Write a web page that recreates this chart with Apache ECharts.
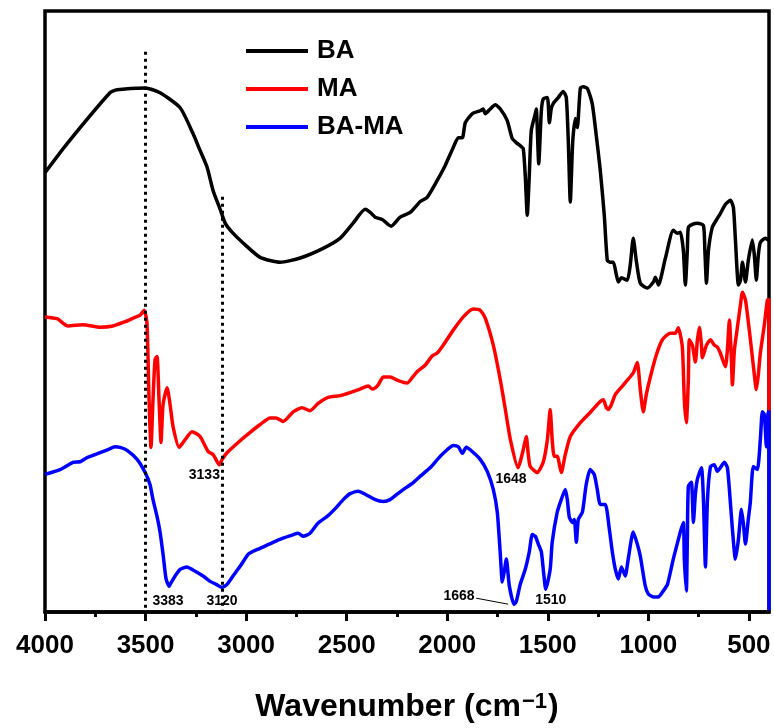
<!DOCTYPE html>
<html>
<head>
<meta charset="utf-8">
<title>FTIR spectra: BA, MA, BA-MA</title>
<script src="https://cdn.jsdelivr.net/npm/echarts@6/dist/echarts.min.js"></script>
<style>
  html, body { margin: 0; padding: 0; background: #fff; }
  #chart { width: 774px; height: 728px; }
</style>
</head>
<body>
<div id="chart"></div>
<script>
// Transmittance (arbitrary units, curves stacked) against wavenumber (cm-1)
const seriesNames = ['BA', 'MA', 'BA-MA'];

const baData = [
  [4000,73.1],[3891,77.9],[3677,86.4],[3642,86.9],[3502,87.2],[3428,86.4],[3328,83.9],[3264,79.6],
  [3229,76.8],[3194,74.0],[3164,70.1],[3129,67.0],[3104,64.7],[3070,63.2],[3015,61.4],[2930,59.0],
  [2831,58.2],[2731,58.9],[2617,60.5],[2532,62.2],[2468,64.7],[2408,67.0],[2383,66.5],[2358,65.7],
  [2323,65.3],[2279,64.2],[2234,65.7],[2184,66.5],[2134,68.3],[2100,69.0],[2050,71.8],[2010,74.3],
  [1970,77.3],[1945,78.9],[1925,78.9],[1910,81.4],[1876,82.9],[1836,83.4],[1821,83.7],[1811,82.9],
  [1786,83.7],[1761,84.4],[1736,83.7],[1702,81.8],[1677,78.8],[1657,78.1],[1637,77.6],[1622,77.1],
  [1612,72.6],[1602,66.0],[1592,72.6],[1582,80.1],[1562,82.9],[1557,83.7],[1545,74.6],[1532,83.4],
  [1522,85.4],[1502,85.6],[1492,81.4],[1483,83.7],[1473,84.6],[1448,85.6],[1423,86.6],[1408,85.6],
  [1398,78.4],[1388,68.2],[1378,76.8],[1373,79.6],[1363,82.1],[1353,80.6],[1338,87.2],[1323,87.4],
  [1303,87.1],[1279,84.6],[1259,79.3],[1239,73.5],[1219,66.0],[1204,58.5],[1189,58.2],[1174,58.2],
  [1159,56.1],[1149,54.9],[1134,55.6],[1105,55.2],[1090,57.7],[1075,62.2],[1060,58.5],[1040,54.7],
  [1005,53.9],[975,54.9],[965,55.7],[950,54.4],[915,58.9],[876,63.5],[856,63.0],[841,63.2],
  [826,60.2],[816,54.4],[806,60.2],[801,64.0],[781,64.5],[756,64.7],[726,64.3],[719,60.2],
  [711,54.7],[701,60.2],[682,64.0],[662,65.2],[642,66.3],[617,67.8],[592,68.5],[577,67.3],
  [567,61.9],[552,54.4],[542,55.2],[532,58.2],[517,54.9],[503,58.5],[483,61.9],[473,59.4],
  [463,55.2],[453,59.4],[443,61.5],[418,62.2],[403,61.9],[400,61.9]
];

const maData = [
  [4000,49.1],[3940,48.8],[3886,47.6],[3811,47.8],[3726,47.4],[3662,47.6],[3602,48.3],[3562,48.9],
  [3527,49.4],[3507,50.2],[3493,48.1],[3483,35.8],[3473,27.4],[3463,35.3],[3453,42.0],[3443,42.5],
  [3433,35.3],[3423,28.2],[3413,34.5],[3393,37.3],[3378,34.5],[3363,30.8],[3333,27.4],[3303,28.7],
  [3269,30.0],[3229,29.2],[3189,26.7],[3164,26.2],[3133,24.5],[3119,25.4],[3095,26.5],[3030,28.5],
  [2980,29.9],[2930,31.2],[2881,32.3],[2851,32.3],[2816,31.7],[2766,33.3],[2722,34.0],[2682,33.5],
  [2642,34.7],[2592,35.7],[2532,36.0],[2483,36.5],[2433,37.1],[2393,37.6],[2373,37.1],[2358,37.3],
  [2343,37.8],[2318,39.1],[2284,39.1],[2244,38.5],[2199,38.1],[2174,39.0],[2149,40.0],[2109,41.1],
  [2075,42.6],[2050,43.1],[2020,44.4],[1970,46.9],[1920,49.1],[1871,50.4],[1836,50.2],[1811,48.9],
  [1771,44.4],[1736,38.6],[1711,33.7],[1686,28.7],[1648,24.0],[1637,25.0],[1622,27.0],[1607,29.2],
  [1597,26.2],[1587,24.2],[1552,23.2],[1522,25.0],[1502,28.7],[1488,33.7],[1478,28.7],[1468,25.9],
  [1453,25.9],[1433,23.2],[1413,26.2],[1388,29.2],[1338,31.5],[1289,33.2],[1249,34.7],[1224,35.3],
  [1209,34.0],[1199,33.7],[1184,34.5],[1164,36.2],[1124,37.8],[1075,39.8],[1055,41.5],[1040,37.0],
  [1025,33.3],[1010,36.2],[990,39.1],[960,42.8],[930,45.3],[891,46.4],[866,46.4],[851,47.3],
  [831,44.1],[821,35.3],[811,31.5],[801,38.6],[796,45.3],[781,44.4],[766,41.6],[756,45.3],
  [746,47.4],[736,44.4],[731,42.3],[711,44.4],[691,45.3],[672,44.4],[657,44.1],[642,43.1],
  [617,40.8],[607,43.6],[597,48.6],[587,42.0],[582,37.8],[572,43.6],[557,47.4],[542,51.1],
  [532,53.2],[517,51.9],[498,46.9],[483,42.5],[473,39.5],[463,37.0],[453,39.5],[443,43.1],
  [423,47.8],[408,51.9],[400,52.0],[400,32.0]
];

const bamaData = [
  [4000,22.9],[3925,23.7],[3861,24.9],[3826,25.0],[3791,25.7],[3726,26.5],[3687,27.0],[3652,27.5],
  [3627,27.4],[3592,26.9],[3542,25.4],[3502,23.2],[3478,21.2],[3463,18.7],[3443,15.9],[3428,13.3],
  [3413,9.6],[3398,5.5],[3383,4.3],[3378,4.6],[3353,6.0],[3328,7.1],[3294,7.5],[3264,7.0],
  [3244,6.6],[3214,6.0],[3179,5.1],[3149,4.6],[3120,4.1],[3095,4.6],[3065,6.0],[3030,7.6],
  [2990,9.6],[2965,10.1],[2930,10.6],[2866,11.6],[2816,12.3],[2771,12.8],[2741,13.1],[2716,12.6],
  [2682,13.1],[2642,14.8],[2597,15.9],[2557,17.2],[2517,18.7],[2483,19.7],[2443,20.1],[2408,19.6],
  [2358,18.7],[2318,18.4],[2284,18.7],[2249,19.6],[2209,20.6],[2174,21.4],[2134,22.6],[2085,24.0],
  [2035,25.9],[2000,27.0],[1970,27.7],[1945,27.5],[1925,26.4],[1905,27.4],[1876,26.7],[1836,25.4],
  [1801,23.4],[1771,20.4],[1751,16.6],[1736,9.6],[1726,5.0],[1716,6.8],[1706,8.8],[1691,4.3],
  [1668,1.3],[1657,1.7],[1637,4.6],[1612,7.1],[1592,10.0],[1577,12.9],[1562,12.6],[1547,11.3],
  [1532,10.0],[1520,6.3],[1510,3.8],[1488,7.1],[1478,11.6],[1453,16.6],[1433,18.7],[1413,20.4],
  [1403,18.7],[1393,15.8],[1378,14.9],[1368,15.4],[1358,11.6],[1348,15.4],[1328,16.6],[1309,21.2],
  [1289,23.7],[1269,22.9],[1254,20.4],[1239,17.9],[1214,17.9],[1194,13.8],[1179,10.0],[1164,7.1],
  [1149,5.5],[1134,7.5],[1115,6.0],[1100,8.8],[1075,13.3],[1055,11.3],[1040,9.3],[1015,4.3],
  [1000,3.0],[975,2.5],[950,2.5],[930,3.3],[905,4.6],[876,8.8],[841,13.3],[826,14.9],
  [821,8.8],[811,3.5],[806,12.1],[801,20.9],[786,21.6],[776,14.9],[766,19.6],[756,22.1],
  [736,24.0],[726,18.7],[716,7.5],[706,18.7],[691,24.2],[672,24.5],[657,23.4],[642,24.0],
  [622,24.9],[607,24.0],[597,20.4],[582,13.8],[567,8.8],[552,12.1],[537,17.1],[527,14.6],
  [517,11.3],[503,15.4],[493,18.2],[478,24.2],[458,23.7],[443,28.7],[433,33.3],[423,32.8],
  [413,27.5],[405,33.0],[400,33.5],[400,0.3]
];

// Band positions called out on the spectra (cm-1)
const maBands = [3133, 1648];
const bamaBands = [3383, 3120, 1668, 1510];

// Vertical guide lines: [wavenumber, upper end]
const guideLines = [[3500, 93.2], [3120, 69.1]];

// Axis ticks
const xMajorTicks = [4000, 3500, 3000, 2500, 2000, 1500, 1000, 500];
const xMinorTicks = [3750, 3250, 2750, 2250, 1750, 1250, 750];

const FONT = '"Liberation Sans", Arial, Helvetica, sans-serif';

// label placement around each band minimum (pixels)
const bandLabelOffset = {
  3133: [-15, 10], 1648: [-7, 11],
  3383: [-1, 15], 3120: [0, 14], 1668: [-55, -8], 1510: [5, 11]
};

function valueAt(data, w) {
  const p = data.find(d => d[0] === w);
  return p ? p[1] : 0;
}

function bandMarks(data, bands) {
  return bands.map(w => ({
    name: String(w),
    coord: [w, valueAt(data, w)],
    label: { offset: bandLabelOffset[w] }
  }));
}

const markPointStyle = {
  symbol: 'circle',
  symbolSize: 1,
  silent: true,
  itemStyle: { color: 'rgba(0,0,0,0)' },
  label: {
    show: true,
    position: 'inside',
    formatter: '{b}',
    color: '#000',
    fontFamily: FONT,
    fontSize: 14,
    fontWeight: 'bold'
  }
};

const lineCommon = {
  type: 'line',
  showSymbol: false,
  symbol: 'none',
  smooth: 0.2
};

const chart = echarts.init(document.getElementById('chart'), null, { renderer: 'canvas' });

const commonX = {
  type: 'value',
  inverse: true,
  min: 400,
  max: 4000,
  position: 'bottom',
  splitLine: { show: false }
};

// arrow from the 1668 band minimum to its label
const v1668 = valueAt(bamaData, 1668);

chart.setOption({
  animation: false,
  backgroundColor: '#fff',
  grid: {
    left: 45, right: 5, top: 11, bottom: 114,
    show: true,
    borderColor: '#000',
    borderWidth: 3.5,
    backgroundColor: 'transparent'
  },
  legend: {
    data: seriesNames,
    orient: 'vertical',
    left: 241,
    top: 31,
    icon: 'rect',
    itemWidth: 62,
    itemHeight: 4,
    itemGap: 8,
    selectedMode: false,
    textStyle: {
      fontFamily: FONT,
      fontSize: 26,
      fontWeight: 'bold',
      color: '#000',
      lineHeight: 30,
      padding: [0, 0, 0, 4]
    }
  },
  xAxis: [
    Object.assign({}, commonX, {
      name: '{t|Wavenumber (cm}{s|\u22121}{t|)}',
      nameLocation: 'middle',
      nameGap: 79,
      nameTextStyle: {
        color: '#000',
        fontFamily: FONT,
        fontSize: 32,
        fontWeight: 'bold',
        rich: {
          t: { fontFamily: FONT, fontSize: 32, fontWeight: 'bold', color: '#000' },
          s: { fontFamily: FONT, fontSize: 22, fontWeight: 'bold', color: '#000', verticalAlign: 'top', padding: [0, 1, 0, 1] }
        }
      },
      axisLine: { show: true, lineStyle: { color: '#000', width: 3.5 } },
      axisTick: {
        show: true, inside: false, length: 9,
        customValues: xMajorTicks,
        lineStyle: { color: '#000', width: 3 }
      },
      axisLabel: {
        show: true,
        customValues: xMajorTicks,
        formatter: v => String(v),
        margin: 21,
        color: '#000',
        fontFamily: FONT,
        fontSize: 26,
        fontWeight: 'bold'
      }
    }),
    Object.assign({}, commonX, {
      axisLine: { show: false },
      axisLabel: { show: false },
      axisTick: {
        show: true, inside: false, length: 5,
        customValues: xMinorTicks,
        lineStyle: { color: '#000', width: 3 }
      }
    })
  ],
  yAxis: {
    type: 'value',
    min: 0,
    max: 100,
    axisLine: { show: false },
    axisTick: { show: false },
    axisLabel: { show: false },
    splitLine: { show: false }
  },
  series: [
    Object.assign({}, lineCommon, {
      name: 'BA',
      data: baData,
      color: '#000',
      lineStyle: { color: '#000', width: 3.5 },
      z: 2,
      markLine: {
        silent: true,
        symbol: 'none',
        z: 6,
        label: { show: false },
        lineStyle: { color: '#000', width: 3, type: [3, 4] },
        data: guideLines.map(g => [{ coord: [g[0], g[1]] }, { coord: [g[0], 0] }])
      }
    }),
    Object.assign({}, lineCommon, {
      name: 'MA',
      data: maData,
      color: '#ff0000',
      lineStyle: { color: '#ff0000', width: 3.5 },
      z: 3,
      markPoint: Object.assign({}, markPointStyle, { data: bandMarks(maData, maBands) })
    }),
    Object.assign({}, lineCommon, {
      name: 'BA-MA',
      data: bamaData,
      color: '#0000ff',
      lineStyle: { color: '#0000ff', width: 3.5 },
      z: 4,
      markPoint: Object.assign({}, markPointStyle, { data: bandMarks(bamaData, bamaBands) }),
      markLine: {
        silent: true,
        z: 6,
        label: { show: false },
        symbol: ['none', 'arrow'],
        symbolSize: [0, 9],
        lineStyle: { color: '#000', width: 1, type: 'solid' },
        data: [[{ coord: [1697, v1668] }, { coord: [1856, v1668 + 1.0] }]]
      }
    })
  ]
});
</script>
</body>
</html>
